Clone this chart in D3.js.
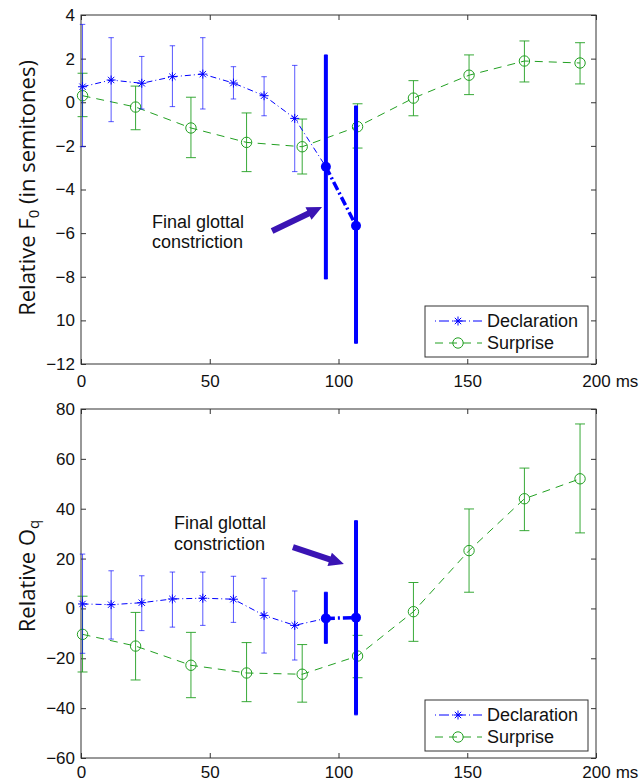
<!DOCTYPE html>
<html>
<head>
<meta charset="utf-8">
<script src="https://cdn.jsdelivr.net/npm/d3@7"></script>
<style>
  body { margin: 0; background: #fff; }
  text { font-family: "Liberation Sans", Arial, sans-serif; fill: #111; }
</style>
</head>
<body>
<svg id="chart"></svg>
<script>
// sample times (ms)
const declTime = [0.6, 11.7, 23.6, 35.5, 47.3, 59.2, 71.1, 83.0, 95.1, 106.8];
const surpTime = [0.6, 21.2, 42.7, 64.3, 85.9, 107.4, 129.1, 150.7, 172.2, 193.8];

// relative F0 (semitones): mean, upper and lower end of error bar
const f0Decl   = [0.71, 1.02, 0.87, 1.17, 1.29, 0.88, 0.30, -0.74, -2.96, -5.66];
const f0DeclHi = [3.57, 2.96, 2.10, 2.59, 2.96, 1.63, 1.17, 1.69, 2.17, -0.17];
const f0DeclLo = [-2.04, -0.89, -0.31, -0.20, -0.31, 0.15, -0.62, -3.18, -8.10, -11.05];
const f0Surp   = [0.30, -0.22, -1.18, -1.84, -2.04, -1.12, 0.19, 1.24, 1.89, 1.80];
const f0SurpHi = [1.33, 0.74, 0.23, -0.49, -0.77, -0.07, 0.99, 2.17, 2.81, 2.73];
const f0SurpLo = [-0.66, -1.26, -2.54, -3.18, -3.29, -2.10, -0.62, 0.35, 0.93, 0.84];

// relative Oq
const oqDecl   = [1.8, 1.5, 2.3, 3.8, 4.1, 3.7, -2.8, -6.8, -4.0, -3.7];
const oqDeclHi = [21.8, 15.1, 13.1, 14.6, 14.6, 12.9, 12.1, 7.0, 6.5, 35.2];
const oqDeclLo = [-18.0, -12.3, -8.9, -7.5, -6.8, -5.6, -17.9, -20.7, -14.0, -42.7];
const oqSurp   = [-10.4, -15.1, -22.8, -25.9, -26.4, -19.1, -1.3, 23.2, 44.0, 52.0];
const oqSurpHi = [4.9, -1.6, -9.6, -13.7, -14.5, -10.8, 10.4, 39.9, 56.3, 74.0];
const oqSurpLo = [-25.5, -28.7, -35.8, -37.4, -37.6, -27.8, -13.2, 6.5, 31.2, 30.3];

const timeTicks = [0, 50, 100, 150, 200];
const timeTickLabels = ["0", "50", "100", "150", "200"];
const f0Ticks = [4, 2, 0, -2, -4, -6, -8, -10, -12];
const f0TickLabels = ["4", "2", "0", "\u22122", "\u22124", "\u22126", "\u22128", "10", "\u221212"];
const oqTicks = [80, 60, 40, 20, 0, -20, -40, -60];
const oqTickLabels = ["80", "60", "40", "20", "0", "\u221220", "\u221240", "\u221260"];
const seriesNames = ["Declaration", "Surprise"];
const noteLines = ["Final glottal", "constriction"];

const W = 642, H = 782;
const BLUE = "#0000ff", GREEN = "#22a022", ARROW = "#3a14b4", AXIS = "#333";
const thickFrom = 8; // last two declaration samples are the glottal constriction

const svg = d3.select("#chart").attr("width", W).attr("height", H);

const zip = (t, m, hi, lo) => t.map((x, i) => ({ t: x, m: m[i], hi: hi[i], lo: lo[i], i }));

function panel(cfg) {
  const x = d3.scaleLinear().domain([0, 200]).range([81, 596]);
  const y = d3.scaleLinear().domain(cfg.domain).range([cfg.bottom, cfg.top]);
  const g = svg.append("g");

  // axes, ticks pointing inward
  const xb = g.append("g").attr("transform", `translate(0,${cfg.bottom})`)
    .call(d3.axisBottom(x).tickValues(timeTicks).tickSize(-5).tickSizeOuter(0).tickPadding(cfg.xPad)
      .tickFormat((d, i) => timeTickLabels[i]));
  g.append("g").attr("transform", `translate(0,${cfg.top})`)
    .call(d3.axisTop(x).tickValues(timeTicks).tickSize(-5).tickSizeOuter(0).tickFormat(""));
  g.append("g").attr("transform", "translate(81,0)")
    .call(d3.axisLeft(y).tickValues(cfg.ticks).tickSize(-5).tickSizeOuter(0).tickPadding(6)
      .tickFormat((d, i) => cfg.tickLabels[i]));
  g.append("g").attr("transform", "translate(596,0)")
    .call(d3.axisRight(y).tickValues(cfg.ticks).tickSize(-5).tickSizeOuter(0).tickFormat(""));
  g.selectAll(".domain").remove();
  g.selectAll(".tick line").attr("stroke", AXIS);
  g.selectAll(".tick text").attr("font-size", 17).attr("font-family", "Liberation Sans, Arial, sans-serif").attr("fill", "#111");

  // "200 ms": unit after the last label
  const last = xb.selectAll(".tick text").filter((d, i) => i === timeTicks.length - 1);
  const lw = last.node().getComputedTextLength();
  xb.select(".tick:last-of-type").append("text")
    .attr("x", lw / 2 + 5).attr("y", cfg.xPad).attr("dy", "0.71em")
    .attr("font-size", 17).attr("fill", "#111").attr("text-anchor", "start").text("ms");

  g.append("rect").attr("x", 81).attr("y", cfg.top).attr("width", 515).attr("height", cfg.bottom - cfg.top)
    .attr("fill", "none").attr("stroke", AXIS).attr("stroke-width", 1);

  // y label
  const yl = g.append("text")
    .attr("transform", `translate(35,${cfg.labelY}) rotate(-90)`)
    .attr("text-anchor", "middle")
    .style("font-family", "'Open Sans', sans-serif").attr("font-size", 22);
  yl.append("tspan").text("Relative " + cfg.label[0]);
  yl.append("tspan").attr("font-size", 15).attr("dy", 4).text(cfg.label[1]);
  if (cfg.label[2]) yl.append("tspan").attr("dy", -4).text(cfg.label[2]);

  const line = d3.line().x(d => x(d.t)).y(d => y(d.m));

  function errorbars(data, color, tee, widthFn, opacity) {
    const eb = g.append("g").attr("stroke", color).attr("fill", "none");
    data.forEach(d => {
      const sw = widthFn(d);
      const op = sw > 1 ? 1 : opacity;
      const ctee = sw > 1 ? tee * 0.6 : tee;
      eb.append("line").attr("x1", x(d.t)).attr("x2", x(d.t)).attr("y1", y(d.hi)).attr("y2", y(d.lo))
        .attr("stroke-width", sw).attr("opacity", op);
      [d.hi, d.lo].forEach(v => {
        eb.append("line").attr("x1", x(d.t - ctee)).attr("x2", x(d.t + ctee)).attr("y1", y(v)).attr("y2", y(v))
          .attr("stroke-width", 1).attr("opacity", op);
      });
    });
  }

  // Surprise
  const surp = cfg.surp;
  errorbars(surp, GREEN, (d3.max(surpTime) - d3.min(surpTime)) / 100, () => 1, 0.9);
  g.append("path").datum(surp).attr("d", line).attr("fill", "none")
    .attr("stroke", GREEN).attr("stroke-width", 1).attr("stroke-dasharray", "8,6");
  g.selectAll(".circ").data(surp).join("circle").attr("class", "circ")
    .attr("cx", d => x(d.t)).attr("cy", d => y(d.m)).attr("r", 5.2)
    .attr("fill", "none").attr("stroke", GREEN).attr("stroke-width", 1);

  // Declaration
  const decl = cfg.decl;
  errorbars(decl, BLUE, (d3.max(declTime) - d3.min(declTime)) / 100, d => d.i >= thickFrom ? 4 : 1, 0.65);
  g.append("path").datum(decl.slice(0, thickFrom + 1)).attr("d", line).attr("fill", "none")
    .attr("stroke", BLUE).attr("stroke-width", 1).attr("stroke-dasharray", "6,3,1,3");
  g.append("path").datum(decl.slice(thickFrom)).attr("d", line).attr("fill", "none")
    .attr("stroke", BLUE).attr("stroke-width", 3.5).attr("stroke-dasharray", "9,3,2,3");
  decl.forEach(d => {
    if (d.i >= thickFrom) {
      g.append("circle").attr("cx", x(d.t)).attr("cy", y(d.m)).attr("r", 5).attr("fill", BLUE);
    } else {
      g.append("path").attr("transform", `translate(${x(d.t)},${y(d.m)})`).attr("d", star(4.5))
        .attr("stroke", BLUE).attr("stroke-width", 1).attr("fill", "none");
    }
  });

  // annotation
  const n = cfg.note;
  noteLines.forEach((s, i) => {
    g.append("text").attr("x", x(n.t)).attr("y", y(n.v[i])).attr("dy", "0.35em")
      .attr("font-size", 18).text(s);
  });
  arrow(g, x(n.from[0]), y(n.from[1]), x(n.to[0]), y(n.to[1]));

  // legend
  const lx = 596 - 8 - 163, ly = cfg.bottom - 7 - 51;
  const lg = g.append("g").attr("transform", `translate(${lx},${ly})`);
  lg.append("rect").attr("width", 163).attr("height", 51).attr("fill", "#fff")
    .attr("stroke", AXIS).attr("stroke-width", 1);
  [15, 37].forEach((ry, i) => {
    const col = i === 0 ? BLUE : GREEN;
    lg.append("line").attr("x1", 10).attr("x2", 57).attr("y1", ry).attr("y2", ry)
      .attr("stroke", col).attr("stroke-width", 1).attr("stroke-dasharray", i === 0 ? "1,3,10,3" : "8,6");
    if (i === 0) {
      lg.append("path").attr("transform", `translate(33,${ry})`).attr("d", star(4.5))
        .attr("stroke", col).attr("fill", "none");
    } else {
      lg.append("circle").attr("cx", 33).attr("cy", ry).attr("r", 5.2).attr("fill", "none").attr("stroke", col);
    }
    lg.append("text").attr("x", 62).attr("y", ry).attr("dy", "0.35em").attr("font-size", 18).text(seriesNames[i]);
  });
}

function star(r) {
  const a = r * Math.SQRT1_2;
  return `M${-r},0H${r}M0,${-r}V${r}M${-a},${-a}L${a},${a}M${-a},${a}L${a},${-a}`;
}

function arrow(g, x1, y1, x2, y2) {
  const ang = Math.atan2(y2 - y1, x2 - x1);
  const len = Math.hypot(x2 - x1, y2 - y1);
  const head = 15, hw = 7, sw = 3;
  const p = [[0, -sw], [len - head, -sw], [len - head, -hw], [len, 0], [len - head, hw], [len - head, sw], [0, sw]];
  g.append("path")
    .attr("transform", `translate(${x1},${y1}) rotate(${ang * 180 / Math.PI})`)
    .attr("d", "M" + p.map(q => q.join(",")).join("L") + "Z")
    .attr("fill", ARROW);
}

panel({
  top: 15, bottom: 364, domain: [-12, 4], ticks: f0Ticks, tickLabels: f0TickLabels, xPad: 11,
  label: ["F", "0", " (in semitones)"], labelY: 188,
  decl: zip(declTime, f0Decl, f0DeclHi, f0DeclLo),
  surp: zip(surpTime, f0Surp, f0SurpHi, f0SurpLo),
  note: { t: 27.6, v: [-5.48, -6.39], from: [74.2, -5.9], to: [93.6, -4.8] }
});

panel({
  top: 409, bottom: 758, domain: [-60, 80], ticks: oqTicks, tickLabels: oqTickLabels, xPad: 8,
  label: ["O", "q"], labelY: 576,
  decl: zip(declTime, oqDecl, oqDeclHi, oqDeclLo),
  surp: zip(surpTime, oqSurp, oqSurpHi, oqSurpLo),
  note: { t: 36.1, v: [34.5, 25.8], from: [82.3, 24.6], to: [102.1, 17.8] }
});
</script>
</body>
</html>
